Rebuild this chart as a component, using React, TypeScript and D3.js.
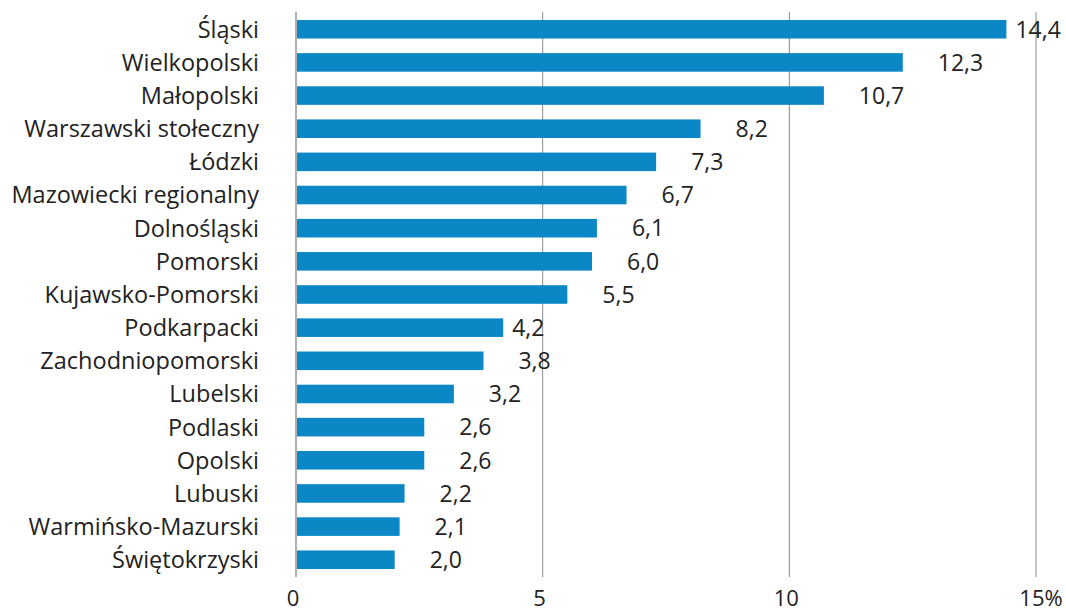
import React, { useEffect, useRef } from 'react';
import * as d3 from 'd3';

const regions = [
    "Śląski", "Wielkopolski", "Małopolski", "Warszawski stołeczny", "Łódzki",
    "Mazowiecki regionalny", "Dolnośląski", "Pomorski", "Kujawsko-Pomorski",
    "Podkarpacki", "Zachodniopomorski", "Lubelski", "Podlaski", "Opolski",
    "Lubuski", "Warmińsko-Mazurski", "Świętokrzyski"
];
const shares = [14.4, 12.3, 10.7, 8.2, 7.3, 6.7, 6.1, 6.0, 5.5, 4.2, 3.8, 3.2, 2.6, 2.6, 2.2, 2.1, 2.0];
// labels that sit right next to the bar end instead of the usual gap
const tightLabels = ["Śląski", "Podkarpacki"];
const xTicks = [0, 5, 10, 15];

const font = "'Open Sans', sans-serif";

const App: React.FC = () => {
    const ref = useRef<SVGSVGElement>(null);

    useEffect(() => {
        const svg = d3.select(ref.current);
        svg.selectAll("*").remove();

        const x = d3.scaleLinear().domain([0, 15]).range([296, 1036]);
        const y = d3.scaleBand<string>()
            .domain(regions)
            .range([12, 577])
            .paddingInner(0.44)
            .paddingOuter(0.24);

        // gridlines
        svg.append("g")
            .selectAll("line")
            .data(xTicks)
            .enter()
            .append("line")
            .attr("x1", d => x(d))
            .attr("x2", d => x(d))
            .attr("y1", 12)
            .attr("y2", 577)
            .attr("stroke", d => d === 0 ? "#b0b0b0" : "#8a8a8a")
            .attr("stroke-width", d => d === 0 ? 2 : 1);

        // bars
        svg.append("g")
            .selectAll("rect")
            .data(regions)
            .enter()
            .append("rect")
            .attr("x", x(0) + 1)
            .attr("y", d => y(d)!)
            .attr("width", (d, i) => x(shares[i]) - x(0) - 1)
            .attr("height", y.bandwidth())
            .attr("fill", "#0b87c5");

        // category labels
        svg.append("g")
            .selectAll("text")
            .data(regions)
            .enter()
            .append("text")
            .attr("x", 259)
            .attr("y", d => y(d)! + y.bandwidth() / 2)
            .attr("dy", "0.36em")
            .attr("text-anchor", "end")
            .style("font-family", font)
            .style("font-size", "23.5px")
            .style("fill", "#222")
            .text(d => d);

        // value labels
        svg.append("g")
            .selectAll("text")
            .data(regions)
            .enter()
            .append("text")
            .attr("x", (d, i) => x(shares[i]) + (tightLabels.includes(d) ? 9 : 35))
            .attr("y", d => y(d)! + y.bandwidth() / 2)
            .attr("dy", "0.36em")
            .style("font-family", font)
            .style("font-size", "23px")
            .style("fill", "#222")
            .text((d, i) => d3.format(".1f")(shares[i]).replace(".", ","));

        // x tick labels
        svg.append("g")
            .selectAll("text")
            .data(xTicks)
            .enter()
            .append("text")
            .attr("x", d => x(d) - 3 + (d === 15 ? 8 : 0))
            .attr("y", 606)
            .attr("text-anchor", "middle")
            .style("font-family", font)
            .style("font-size", "22px")
            .style("fill", "#222")
            .text(d => d === 15 ? `${d}%` : `${d}`);
    }, []);

    return (
        <svg ref={ref} width={1066} height={613}
            style={{ position: "absolute", left: 0, top: 0, background: "white" }} />
    );
};

export default App;
